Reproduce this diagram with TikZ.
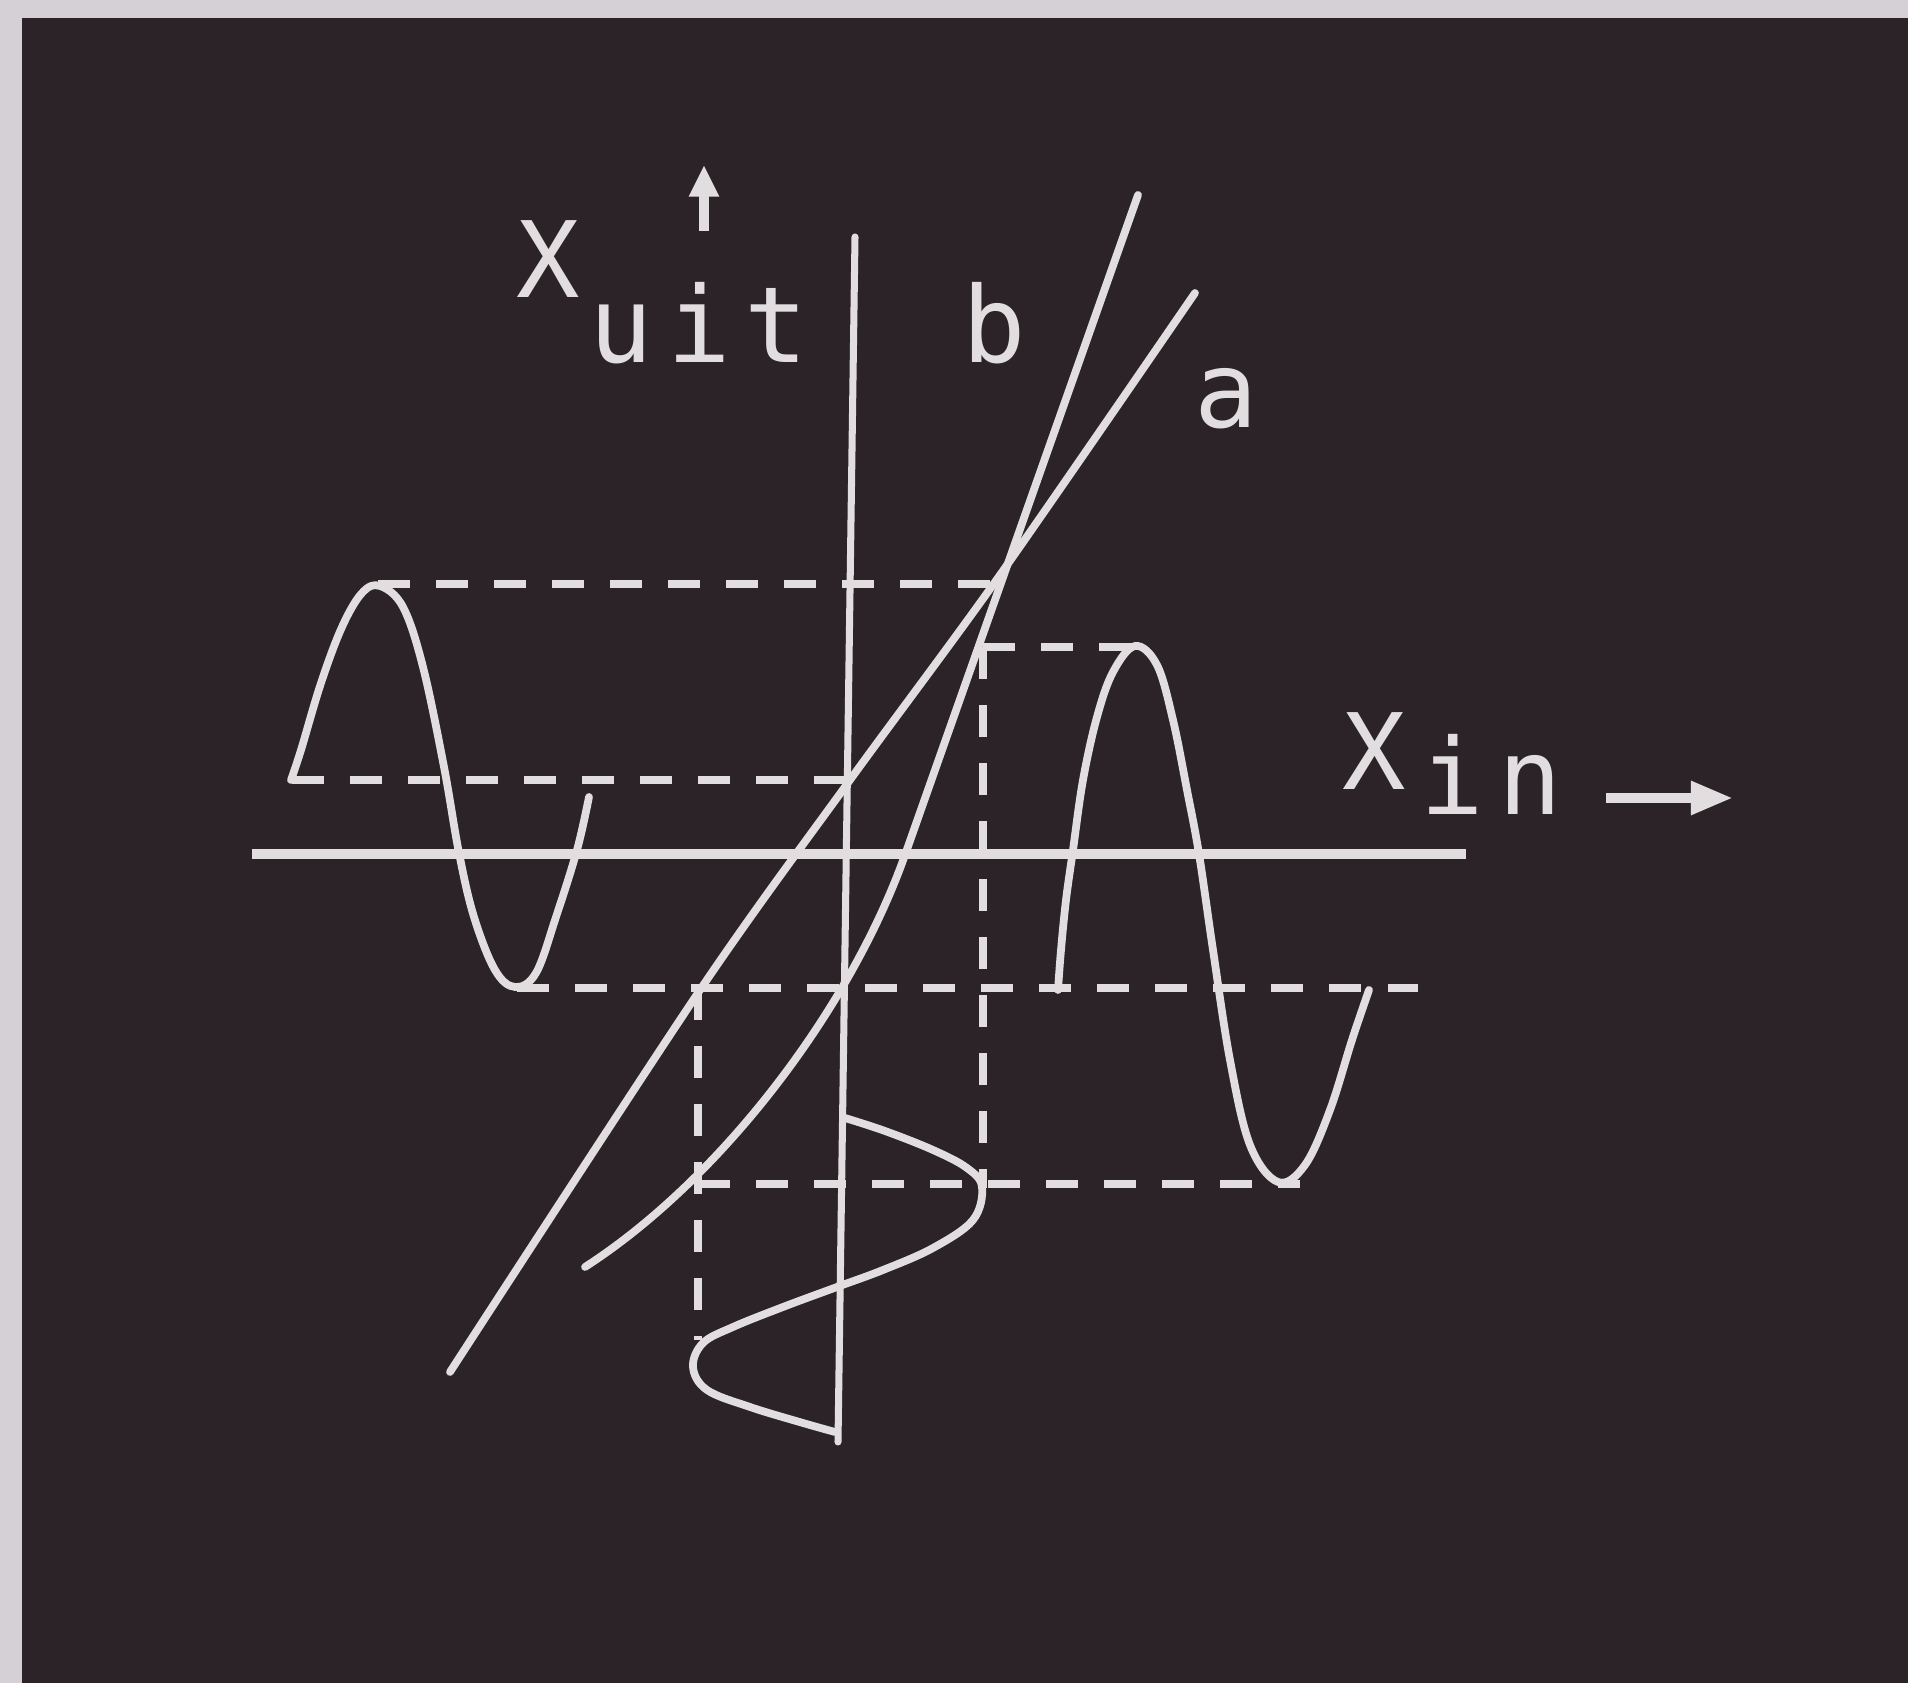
\documentclass[tikz,border=0pt]{standalone}
\usepackage{fontspec}
\newfontfamily\plotfont{DejaVu Sans Mono}
\usetikzlibrary{arrows.meta}
\definecolor{panel}{RGB}{43,35,40}
\definecolor{ink}{RGB}{226,222,224}
\definecolor{framegray}{RGB}{212,208,214}
\newcommand{\plsp}{\hspace{4pt}}
\begin{document}
\begin{tikzpicture}[x=0.01cm,y=-0.01cm,
  curve/.style={draw=ink,line width=2.2pt,line cap=round,line join=round},
  axisline/.style={draw=ink,line width=2.7pt},
  guide/.style={draw=ink,line width=2.5pt,dash pattern=on 3.2mm off 2.6mm},
  lbl/.style={text=ink,font=\plotfont\fontsize{30}{30}\selectfont,inner sep=0pt,anchor=base west}]
\useasboundingbox (0,0) rectangle (1908,1683);
\fill[framegray] (0,0) rectangle (1908,1683);
\fill[panel] (22,18) rectangle (1908,1683);

% axes
\coordinate (hL) at (252,854); \coordinate (hR) at (1466,854);
\coordinate (vT) at (855,237); \coordinate (vB) at (838,1442);
\draw[axisline] (hL) -- (hR);
\draw[curve,line width=2pt] (vT) -- (vB);

% arrows
\coordinate (upS) at (704,231); \coordinate (upE) at (704,165);
\draw[ink,line width=2.8pt,-{Triangle[length=9pt,width=8pt]}] (upS) -- (upE);
\coordinate (rtS) at (1606,798); \coordinate (rtE) at (1733,798);
\draw[ink,line width=2.8pt,-{Triangle[length=12pt,width=9pt]}] (rtS) -- (rtE);

% dashed projection lines
\draw[guide] (378,584) -- (1000,584);
\draw[guide] (983,647) -- (1133,647);
\draw[guide] (292,780) -- (850,780);
\draw[guide] (517,988) -- (1418,988);
\draw[guide] (698,1184) -- (1300,1184);
\draw[guide] (698,988) -- (698,1340);
\draw[guide] (983,647) -- (983,1188);

% characteristic a (straight) and b (bending)
\draw[curve] plot[smooth,tension=0.5] coordinates {(1195,293) (1000,575) (850,780) (700,990) (450,1372)};
\draw[curve] (1138,195) -- (905,855) .. controls (850,1010) and (720,1180) .. (585,1267);

% left sine
\draw[curve] plot[smooth,tension=0.6] coordinates {(291,780) (301,750) (321,683) (342,627) (362,593) (380,586) (403,607) (423,667) (444,767) (459,853) (474,917) (495,970) (515,987) (536,973) (556,917) (577,850) (589,797)};

% right sine
\draw[curve] plot[smooth,tension=0.6] coordinates {(1058,990) (1061,950) (1066,900) (1073,850) (1083,780) (1097,717) (1113,672) (1135,646) (1157,665) (1173,720) (1187,790) (1199,854) (1213,950) (1230,1060) (1250,1145) (1278,1182) (1305,1165) (1330,1110) (1352,1040) (1369,990)};

% output wave
\draw[curve] plot[smooth,tension=0.6] coordinates {(845,1118) (885,1131) (933,1150) (967,1168) (982,1187) (973,1220) (933,1248) (883,1270) (837,1287) (783,1307) (733,1327) (703,1343) (693,1367) (707,1390) (750,1407) (803,1423) (835,1432)};

% labels
\node[lbl] (xuitX) at (516,298) {X};
\node[lbl] (xuitSub) at (589,363) {u\plsp i\plsp t};
\node[lbl] (lblb) at (962,363) {b};
\node[lbl] (lbla) at (1194,428) {a};
\node[lbl] (xinX) at (1342,790) {X};
\node[lbl] (xinSub) at (1420,815) {i\plsp n};
\end{tikzpicture}
\end{document}
